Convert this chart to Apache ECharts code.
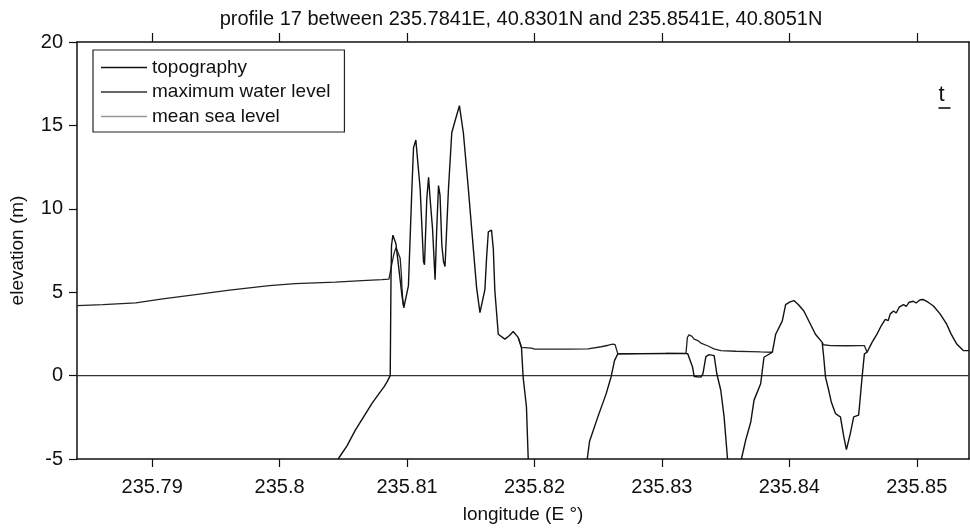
<!DOCTYPE html>
<html>
<head>
<meta charset="utf-8">
<title>profile 17</title>
<script src="https://cdn.jsdelivr.net/npm/echarts@6/dist/echarts.min.js"></script>
<style>
  html, body { margin: 0; padding: 0; background: #fff; }
  #chart { width: 970px; height: 529px; }
</style>
</head>
<body>
<div id="chart"></div>
<script>
// Cross-shore profile 17: ground elevation, maximum tsunami water level and mean sea level.
// null entries mark stretches that lie below the plotted elevation range.

const topoLon = [
  235.80459, 235.80530, 235.80592, 235.80725, 235.80780, 235.80819, 235.80842, 235.80868,
  235.80874, 235.80878, 235.80889, 235.80913, 235.80936, 235.80960, 235.80975, 235.81011,
  235.81038, 235.81051, 235.81069, 235.81082, 235.81103, 235.81129, 235.81137, 235.81155,
  235.81169, 235.81181, 235.81200, 235.81220, 235.81233, 235.81247, 235.81259, 235.81273,
  235.81286, 235.81298, 235.81325, 235.81351, 235.81376, 235.81411, 235.81442, 235.81481,
  235.81520, 235.81546, 235.81572, 235.81611, 235.81624, 235.81638, 235.81663, 235.81677,
  235.81689, 235.81716, 235.81768, 235.81804, 235.81833, 235.81872, 235.81898, 235.81911,
  235.81937, 235.81951, 235.82180, 235.82414, 235.82432, 235.82498, 235.82563, 235.82602,
  235.82628, 235.82654, 235.82837, 235.83032, 235.83202, 235.83214, 235.83241, 235.83253,
  235.83306, 235.83322, 235.83345, 235.83371, 235.83410, 235.83431, 235.83462, 235.83488,
  235.83515, 235.83570, 235.83624, 235.83658, 235.83697, 235.83723, 235.83775, 235.83801,
  235.83867, 235.83893, 235.83945, 235.83971, 235.84002, 235.84036, 235.84072, 235.84114,
  235.84158, 235.84205, 235.84258, 235.84270, 235.84284, 235.84309, 235.84330, 235.84362,
  235.84385, 235.84401, 235.84427, 235.84448, 235.84479, 235.84505, 235.84544, 235.84557,
  235.84571, 235.84589, 235.84610, 235.84649, 235.84688, 235.84722, 235.84753, 235.84776,
  235.84792, 235.84818, 235.84839, 235.84862, 235.84896, 235.84917, 235.84941, 235.84974,
  235.84995, 235.85027, 235.85052, 235.85089, 235.85131, 235.85183, 235.85235, 235.85269,
  235.85314, 235.85365, 235.85410
];
const topoElev = [
  -5.0, -4.2, -3.3, -1.67, -1.08, -0.68, -0.39, 0.0,
  5.75, 7.8, 8.42, 7.9, 6.4, 4.8, 4.07, 5.4,
  11.2, 13.67, 14.12, 14.16, 11.2, 6.84, 6.64, 10.6,
  11.89, 10.6, 8.82, 5.75, 8.82, 11.39, 10.8, 7.83,
  6.84, 6.54, 11.19, 14.56, 15.25, 16.18, 14.56, 11.2,
  7.63, 5.26, 3.77, 5.16, 7.04, 8.62, 8.72, 7.6,
  5.1, 2.48, 2.19, 2.4, 2.64, 2.29, 1.69, -0.09,
  -1.87, -5.0, null, -5.0, -3.95, -2.46, -1.08, -0.05,
  0.9, 1.3, 1.32, 1.33, 1.32, 1.3, 0.5, -0.05,
  -0.09, 0.1, 1.14, 1.26, 1.2, 0.11, -0.88, -2.46,
  -5.0, null, -5.0, -3.85, -2.8, -1.47, -0.49, 1.1,
  1.4, 2.48, 3.28, 4.26, 4.4, 4.5, 4.25, 3.87,
  3.2, 2.48, 1.99, 1.1, -0.09, -0.88, -1.6, -2.27,
  -2.4, -2.47, -3.65, -4.44, -3.46, -2.47, -2.37, -1.28,
  -0.09, 1.3, 1.4, 1.99, 2.48, 3.0, 3.37, 3.3,
  3.7, 3.87, 3.75, 4.1, 4.26, 4.15, 4.4, 4.46,
  4.35, 4.55, 4.56, 4.4, 4.17, 3.7, 3.08, 2.5,
  1.89, 1.5, 1.5
];

const waterLon = [
  235.78410, 235.78613, 235.78871, 235.79083, 235.79341, 235.79607, 235.79919, 235.80123,
  235.80436, 235.80647, 235.80803, 235.80858, 235.80878, 235.80897, 235.80913, 235.80928,
  235.80946, 235.80956, 235.80960, 235.80968, 235.80975, 235.81400,
  235.81872, 235.81898, 235.81976, 235.82002, 235.82263, 235.82420, 235.82524, 235.82579,
  235.82615, 235.82633, 235.82654, 235.82837, 235.83032, 235.83189, 235.83200, 235.83214,
  235.83236, 235.83253, 235.83282, 235.83306, 235.83358, 235.83408, 235.83462, 235.83580,
  235.83697, 235.83775, 235.83867, 235.84050,
  235.84258, 235.84268, 235.84323, 235.84440, 235.84557, 235.84589, 235.84610
];
const waterElev = [
  4.19, 4.25, 4.36, 4.60, 4.86, 5.12, 5.39, 5.51,
  5.61, 5.69, 5.75, 5.79, 6.6, 7.3, 7.67, 7.4,
  7.04, 6.0, 5.26, 4.4, 4.07, null,
  2.29, 1.69, 1.65, 1.59, 1.59, 1.6, 1.73, 1.82,
  1.89, 1.85, 1.3, 1.32, 1.33, 1.35, 2.29, 2.45,
  2.35, 2.19, 2.1, 1.95, 1.79, 1.6, 1.5, 1.46,
  1.44, 1.42, 1.4, null,
  1.99, 1.85, 1.8, 1.79, 1.8, 1.8, 1.4
];

const seaLon = [235.7841, 235.8541];
const seaElev = [0, 0];

const lonTicks = [235.79, 235.80, 235.81, 235.82, 235.83, 235.84, 235.85];
const elevTicks = [-5, 0, 5, 10, 15, 20];

const FONT = 'Liberation Sans, Arial, Helvetica, sans-serif';
const INK = '#111';

function pairs(xs, ys) {
  return xs.map((x, i) => [x, ys[i] === null ? '-' : ys[i]]);
}

const chart = echarts.init(document.getElementById('chart'), null, { renderer: 'canvas' });

chart.setOption({
  animation: false,
  backgroundColor: '#fff',
  title: {
    text: 'profile 17 between 235.7841E, 40.8301N and 235.8541E, 40.8051N',
    left: 521,
    top: 9,
    padding: 0,
    textAlign: 'center',
    textStyle: { fontFamily: FONT, fontSize: 20, fontWeight: 'normal', color: INK }
  },
  legend: {
    orient: 'vertical',
    left: 93,
    top: 50,
    padding: [8, 14, 6, 8],
    itemGap: 5.5,
    itemWidth: 46,
    itemHeight: 1.5,
    icon: 'rect',
    borderColor: '#222',
    borderWidth: 1.2,
    borderRadius: 0,
    backgroundColor: '#fff',
    textStyle: { fontFamily: FONT, fontSize: 19, color: INK },
    data: [
      { name: 'topography', itemStyle: { color: '#111' } },
      { name: 'maximum water level', itemStyle: { color: '#333' } },
      { name: 'mean sea level', itemStyle: { color: '#999' } }
    ]
  },
  grid: { left: 74, right: 1, top: 42, bottom: 66, containLabel: false },
  xAxis: [
    {
      type: 'value',
      position: 'bottom',
      min: 235.7841,
      max: 235.8541,
      name: 'longitude (E °)',
      nameLocation: 'middle',
      nameGap: 46,
      nameTextStyle: { fontFamily: FONT, fontSize: 19, color: INK },
      axisLine: { show: true, onZero: false, lineStyle: { color: INK, width: 1.5 } },
      axisTick: { show: true, inside: false, length: 8, customValues: lonTicks, lineStyle: { color: INK, width: 1.2 } },
      axisLabel: {
        customValues: lonTicks,
        margin: 18,
        fontFamily: FONT, fontSize: 20, color: INK,
        formatter: v => String(+v.toFixed(2))
      },
      splitLine: { show: false }
    },
    {
      type: 'value',
      position: 'top',
      min: 235.7841,
      max: 235.8541,
      axisLine: { show: true, onZero: false, lineStyle: { color: INK, width: 1.5 } },
      axisTick: { show: true, inside: false, length: 9, customValues: lonTicks, lineStyle: { color: INK, width: 1.2 } },
      axisLabel: { show: false },
      splitLine: { show: false }
    }
  ],
  yAxis: [
    {
      type: 'value',
      position: 'left',
      min: -5,
      max: 20,
      interval: 5,
      name: 'elevation (m)',
      nameLocation: 'middle',
      nameGap: 50,
      nameRotate: 90,
      nameTextStyle: { fontFamily: FONT, fontSize: 19, color: INK },
      axisLine: { show: true, onZero: false, lineStyle: { color: INK, width: 1.5 } },
      axisTick: { show: true, inside: false, length: 8, lineStyle: { color: INK, width: 1.2 } },
      axisLabel: { margin: 14, fontFamily: FONT, fontSize: 20, color: INK,
        formatter: v => elevTicks.includes(v) ? String(v) : '' },
      splitLine: { show: false }
    },
    {
      type: 'value',
      position: 'right',
      min: -5,
      max: 20,
      interval: 5,
      axisLine: { show: true, onZero: false, lineStyle: { color: INK, width: 1.5 } },
      axisTick: { show: false },
      axisLabel: { show: false },
      splitLine: { show: false }
    }
  ],
  series: [
    {
      name: 'topography',
      type: 'line',
      xAxisIndex: 0,
      yAxisIndex: 0,
      symbol: 'none',
      clip: true,
      connectNulls: false,
      lineStyle: { color: '#111', width: 1.4 },
      itemStyle: { color: '#111' },
      data: pairs(topoLon, topoElev),
      z: 3
    },
    {
      name: 'maximum water level',
      type: 'line',
      xAxisIndex: 0,
      yAxisIndex: 0,
      symbol: 'none',
      clip: true,
      connectNulls: false,
      lineStyle: { color: '#222', width: 1.3 },
      itemStyle: { color: '#333' },
      data: pairs(waterLon, waterElev),
      z: 2
    },
    {
      name: 'mean sea level',
      type: 'line',
      xAxisIndex: 0,
      yAxisIndex: 0,
      symbol: 'none',
      clip: true,
      lineStyle: { color: '#333', width: 1.4 },
      itemStyle: { color: '#999' },
      data: pairs(seaLon, seaElev),
      z: 1
    }
  ],
  graphic: [
    {
      type: 'group',
      left: 936,
      top: 84,
      children: [
        { type: 'text', x: 0, y: 0,
          style: { text: 't', fontFamily: FONT, fontSize: 22, fill: INK } },
        { type: 'line', shape: { x1: 0, y1: 24, x2: 12, y2: 24 },
          style: { stroke: INK, lineWidth: 1.6 } }
      ]
    }
  ]
});
</script>
</body>
</html>
